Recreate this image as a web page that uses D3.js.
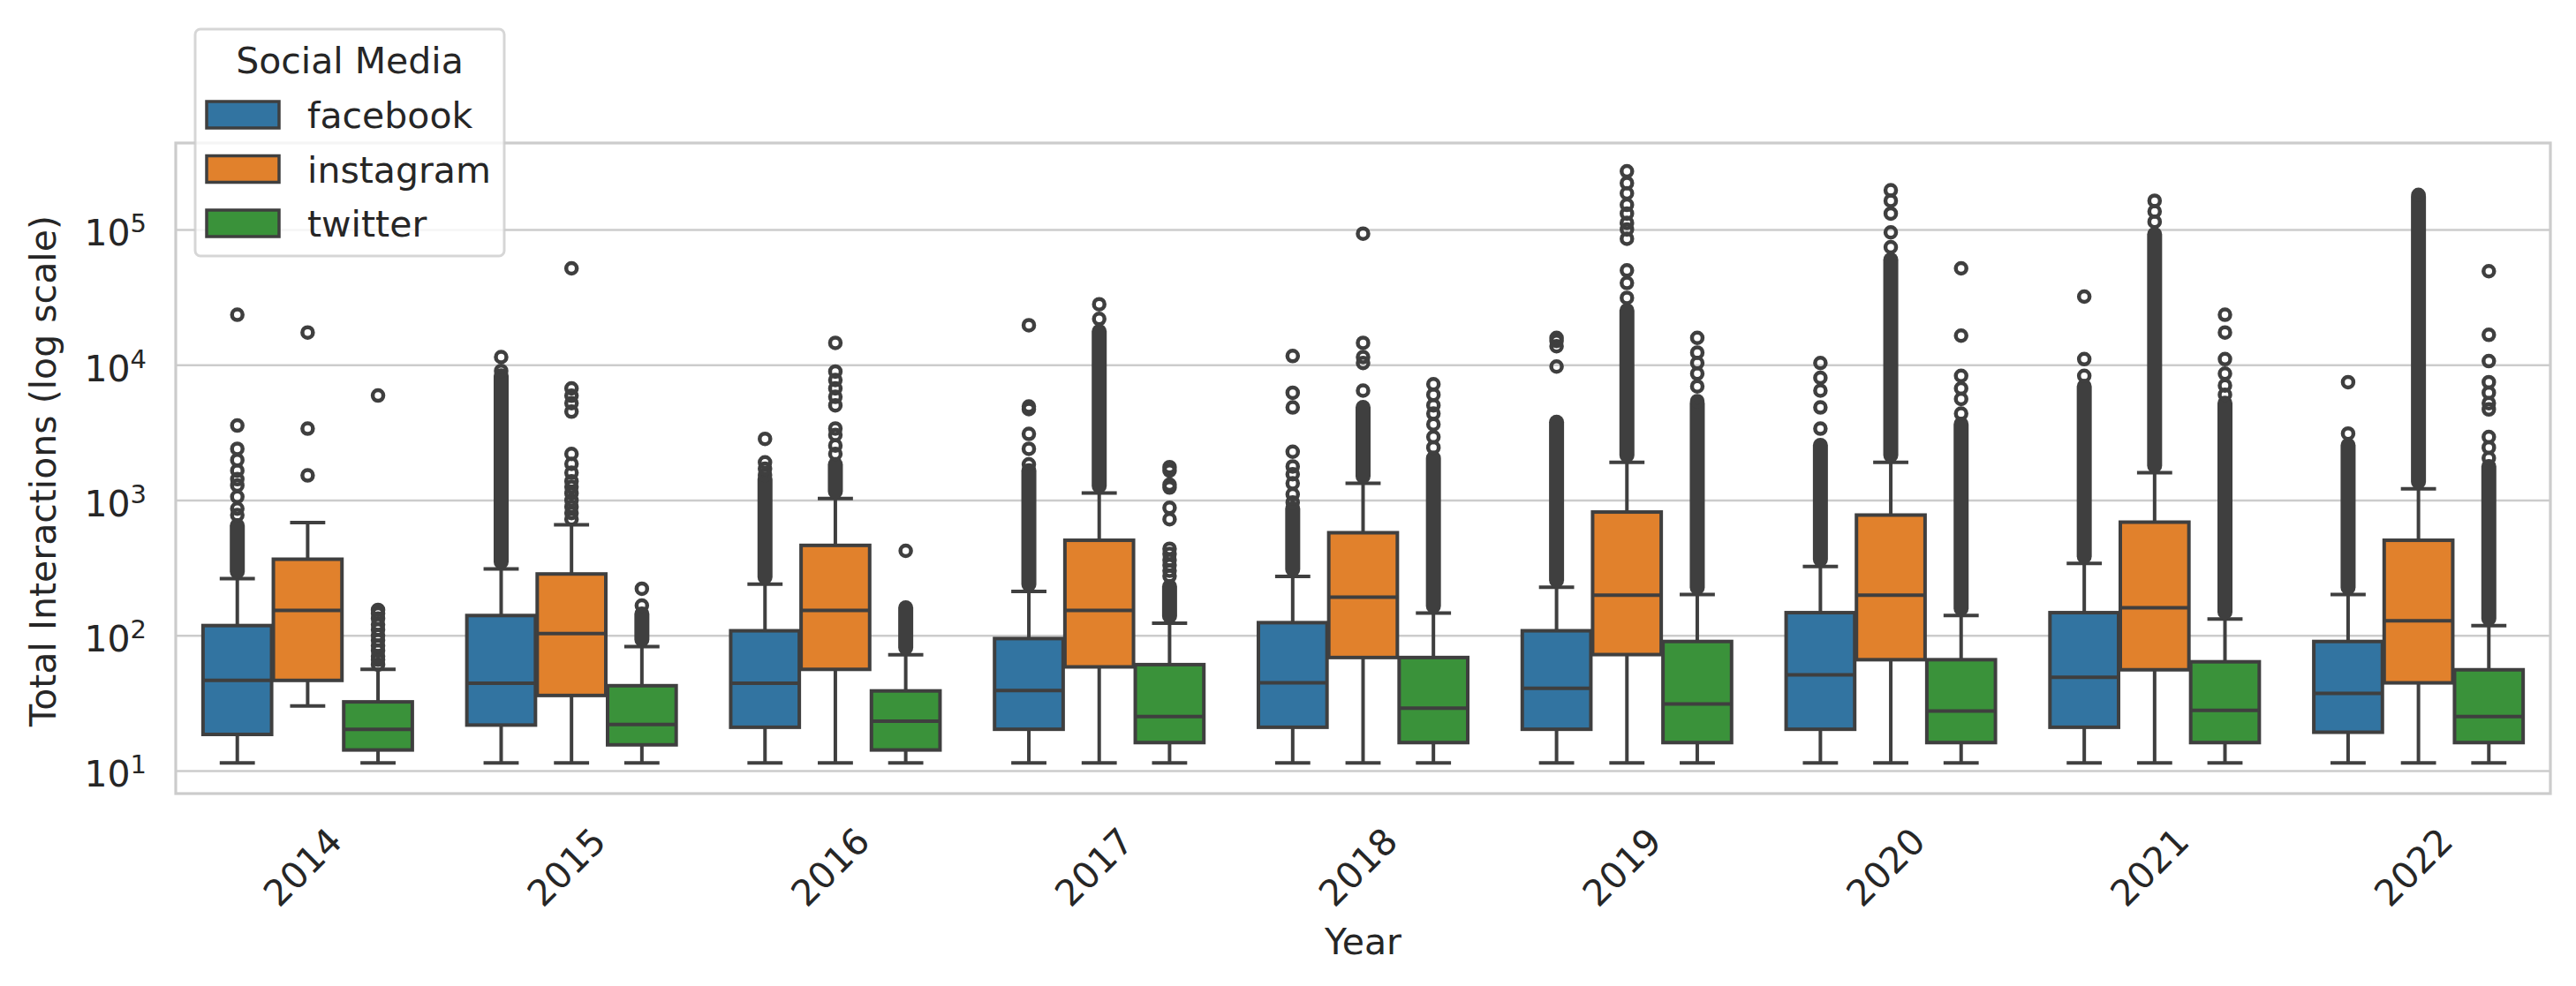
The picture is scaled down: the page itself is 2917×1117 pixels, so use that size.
<!DOCTYPE html>
<html><head><meta charset="utf-8">
<script src="https://cdn.jsdelivr.net/npm/d3@7"></script>
<style>body{margin:0;background:#fff}svg{display:block}</style>
</head><body>
<svg id="chart" width="2917" height="1117"></svg>
<script>
// ---------------- data ----------------
const years = ["2014","2015","2016","2017","2018","2019","2020","2021","2022"];
const platforms = ["facebook","instagram","twitter"];
const colors = ["#3274a1","#e1812c","#3a923a"];
const yTickValues = [10, 100, 1000, 10000, 100000];
const yTickExponents = ["1","2","3","4","5"];

// order of rows: facebook, instagram, twitter; columns: years
const q1 = [
  [18.5, 21.7, 20.9, 20.2, 20.9, 20.2, 20.2, 20.9, 19.2],
  [46.4, 35.9, 56, 58.4, 68.5, 72, 66, 55.6, 44.5],
  [14.2, 15.5, 14.2, 16.1, 16.1, 16.1, 16.1, 16.1, 16.1]
];
const median = [
  [46.4, 44.2, 44.2, 39.1, 44.5, 40.5, 51, 48.9, 37.2],
  [153, 103, 153, 153, 191, 198, 198, 160, 128],
  [20.2, 21.9, 23.2, 25.1, 28.9, 31.1, 27.5, 27.9, 25.1]
];
const q3 = [
  [118, 140, 108, 94.6, 124, 108, 147, 147, 90],
  [365, 284, 462, 504, 573, 815, 774, 686, 504],
  [32.2, 42.4, 38.8, 60.7, 68.5, 90, 66, 63.7, 55.6]
];
const whiskerLow = [
  [11.4, 11.4, 11.4, 11.4, 11.4, 11.4, 11.4, 11.4, 11.4],
  [30, 11.4, 11.4, 11.4, 11.4, 11.4, 11.4, 11.4, 11.4],
  [11.4, 11.4, 11.4, 11.4, 11.4, 11.4, 11.4, 11.4, 11.4]
];
const whiskerHigh = [
  [262, 309, 239, 211, 272, 227, 323, 340, 200],
  [681, 657, 1025, 1125, 1327, 1900, 1900, 1590, 1210],
  [56, 82.6, 71.9, 123, 146, 200, 140, 132, 118]
];
// upper end of the run of outliers so dense they merge into one column (null = none)
const denseOutlierTop = [
  [647, 8280, 1425, 1648, 863, 3760, 2535, 6920, 2535],
  [null, null, 1830, 17600, 4830, 25200, 59700, 91800, 175000],
  [null, 143.6, 160, 229, 2040, 5200, 3630, 5200, 1770]
];
// separately visible outlier circles
const outliers = [
  [
    [774, 863, 1055, 1281, 1425, 1648, 1973, 2390, 3550, 23400],
    [9000, 11400],
    [1530, 1700, 1900, 2830],
    [1835, 2390, 3080, 4700, 4910, 19600],
    [960, 1100, 1327, 1550, 1770, 2275, 4830, 6210, 11600],
    [9700, 13700, 15000, 15800],
    [3370, 4830, 6440, 8000, 10300],
    [8280, 11000, 31900],
    [3100, 7430]
  ],
  [
    [1520, 3370, 17300],
    [721, 800, 890, 995, 1120, 1250, 1377, 1590, 1850, 2190, 4500, 5200, 5900, 6680, 51600],
    [2190, 2530, 3030, 3380, 5010, 5790, 6680, 7710, 8900, 14500],
    [21800, 28000],
    [6440, 10300, 11400, 14500, 93100],
    [31200, 40200, 49800, 85400, 100000, 112000, 131000, 152000, 185000, 220000, 269000],
    [74000, 95100, 131000, 163000, 195000],
    [114000, 136000, 163000],
    [180000]
  ],
  [
    [60.7, 66, 70, 77, 83.8, 92, 100, 110, 120, 133, 145, 154, 5920],
    [166, 221],
    [421],
    [274, 300, 330, 360, 400, 436, 721, 875, 1236, 1300, 1648, 1750],
    [2445, 2925, 3630, 4350, 5010, 6000, 7180],
    [5380, 6920, 8590, 10300, 12300, 15800],
    [4350, 5580, 6680, 8280, 16400, 51600],
    [6000, 7030, 8590, 11000, 17300, 23400],
    [2040, 2445, 2925, 4670, 5200, 6210, 7430, 10640, 16630, 49100]
  ]
];

// ---------------- layout ----------------
const m = {left: 199, right: 2888, top: 162, bottom: 899};
const lineColor = "#3f3f3f";
const gridColor = "#cccccc";
const font = "'DejaVu Sans', sans-serif";

const svg = d3.select("#chart").style("font-family", font);

const x = d3.scaleBand().domain(years).range([m.left, m.right])
  .paddingInner(0.2).paddingOuter(0.1);
const xs = d3.scaleBand().domain(platforms).range([0, x.bandwidth()]);
const y = d3.scaleLog().domain([Math.pow(10, 0.830), Math.pow(10, 5.639)]).range([m.bottom, m.top]);

// rows
const rows = [];
platforms.forEach((p, pi) => {
  years.forEach((yr, yi) => {
    rows.push({
      year: yr, platform: p, color: colors[pi],
      q1: q1[pi][yi], median: median[pi][yi], q3: q3[pi][yi],
      lo: whiskerLow[pi][yi], hi: whiskerHigh[pi][yi],
      dense: denseOutlierTop[pi][yi], out: outliers[pi][yi]
    });
  });
});

// background
svg.append("rect").attr("width", 2917).attr("height", 1117).attr("fill", "#fff");

// horizontal grid
const grid = svg.append("g").attr("transform", `translate(${m.left},0)`)
  .call(d3.axisLeft(y).tickValues(yTickValues).tickSize(-(m.right - m.left)).tickFormat(() => ""));
grid.select(".domain").remove();
grid.selectAll(".tick line").attr("stroke", gridColor).attr("stroke-width", 2.6);

// spines
svg.append("rect").attr("x", m.left).attr("y", m.top)
  .attr("width", m.right - m.left).attr("height", m.bottom - m.top)
  .attr("fill", "none").attr("stroke", gridColor).attr("stroke-width", 3.2);

// y tick labels (mathtext style 10^n)
const yAxis = svg.append("g").attr("transform", `translate(${m.left},0)`)
  .call(d3.axisLeft(y).tickValues(yTickValues).tickSize(0).tickFormat(() => ""));
yAxis.select(".domain").remove();
yAxis.selectAll(".tick text").each(function(d, i) {
  const t = d3.select(this)
    .attr("x", -33).attr("dy", null).attr("y", 18)
    .attr("text-anchor", "end").attr("fill", "#262626")
    .style("font-size", "41px").style("font-family", font);
  t.append("tspan").text("10");
  t.append("tspan").attr("dy", -15).style("font-size", "29px").text(yTickExponents[i]);
});

// x tick labels
const xAxis = svg.append("g").attr("transform", `translate(0,${m.bottom})`)
  .call(d3.axisBottom(x).tickSize(0));
xAxis.select(".domain").remove();
xAxis.selectAll(".tick text")
  .attr("y", null).attr("dy", "0.36em")
  .attr("transform", "translate(-6,83) rotate(-45)")
  .attr("text-anchor", "middle").attr("fill", "#262626")
  .style("font-size", "41px").style("font-family", font);

// axis titles
svg.append("text").attr("x", (m.left + m.right) / 2).attr("y", 1081)
  .attr("text-anchor", "middle").attr("fill", "#262626").style("font-size", "41px").text("Year");
svg.append("text").attr("transform", `translate(63,${(m.top + m.bottom) / 2 + 3}) rotate(-90)`)
  .attr("text-anchor", "middle").attr("fill", "#262626").style("font-size", "41px")
  .text("Total Interactions (log scale)");

// boxes
const bw = xs.bandwidth();
const cx = d => x(d.year) + xs(d.platform) + bw / 2;
const boxG = svg.append("g");
const g = boxG.selectAll("g.box").data(rows).join("g").attr("class", "box");

// whiskers
g.append("line").attr("x1", cx).attr("x2", cx)
  .attr("y1", d => y(d.q1)).attr("y2", d => y(d.lo))
  .attr("stroke", lineColor).attr("stroke-width", 4);
g.append("line").attr("x1", cx).attr("x2", cx)
  .attr("y1", d => y(d.q3)).attr("y2", d => y(d.hi))
  .attr("stroke", lineColor).attr("stroke-width", 4);
// caps
g.append("line").attr("x1", d => cx(d) - bw / 4).attr("x2", d => cx(d) + bw / 4)
  .attr("y1", d => y(d.lo)).attr("y2", d => y(d.lo))
  .attr("stroke", lineColor).attr("stroke-width", 4);
g.append("line").attr("x1", d => cx(d) - bw / 4).attr("x2", d => cx(d) + bw / 4)
  .attr("y1", d => y(d.hi)).attr("y2", d => y(d.hi))
  .attr("stroke", lineColor).attr("stroke-width", 4);
// box
g.append("rect").attr("x", d => cx(d) - bw / 2 + 1).attr("width", bw - 2)
  .attr("y", d => y(d.q3)).attr("height", d => y(d.q1) - y(d.q3))
  .attr("fill", d => d.color).attr("stroke", lineColor).attr("stroke-width", 4);
// median
g.append("line").attr("x1", d => cx(d) - bw / 2 + 1).attr("x2", d => cx(d) + bw / 2 - 1)
  .attr("y1", d => y(d.median)).attr("y2", d => y(d.median))
  .attr("stroke", lineColor).attr("stroke-width", 4);
// dense outlier columns
g.filter(d => d.dense != null).append("line")
  .attr("x1", cx).attr("x2", cx)
  .attr("y1", d => y(d.hi) - 8).attr("y2", d => y(d.dense))
  .attr("stroke", lineColor).attr("stroke-width", 17).attr("stroke-linecap", "round");
// outlier circles
g.selectAll("circle").data(d => d.out.map(v => ({v, d}))).join("circle")
  .attr("cx", o => cx(o.d)).attr("cy", o => y(o.v)).attr("r", 6)
  .attr("fill", "none").attr("stroke", lineColor).attr("stroke-width", 4.5);

// legend
const leg = svg.append("g");
leg.append("rect").attr("x", 221).attr("y", 33).attr("width", 350).attr("height", 257)
  .attr("rx", 6).attr("fill", "#fff").attr("fill-opacity", 0.8)
  .attr("stroke", gridColor).attr("stroke-opacity", 0.8).attr("stroke-width", 3);
leg.append("text").attr("x", 396).attr("y", 83).attr("text-anchor", "middle")
  .attr("fill", "#262626").style("font-size", "41px").text("Social Media");
const items = leg.selectAll("g.item").data(platforms).join("g").attr("class", "item")
  .attr("transform", (d, i) => `translate(0,${115 + i * 61.5})`);
items.append("rect").attr("x", 234).attr("y", 0).attr("width", 82).attr("height", 30)
  .attr("fill", (d, i) => colors[i]).attr("stroke", lineColor).attr("stroke-width", 3.5);
items.append("text").attr("x", 348).attr("y", 30).attr("fill", "#262626")
  .style("font-size", "41px").text(d => d);
</script>
</body></html>
